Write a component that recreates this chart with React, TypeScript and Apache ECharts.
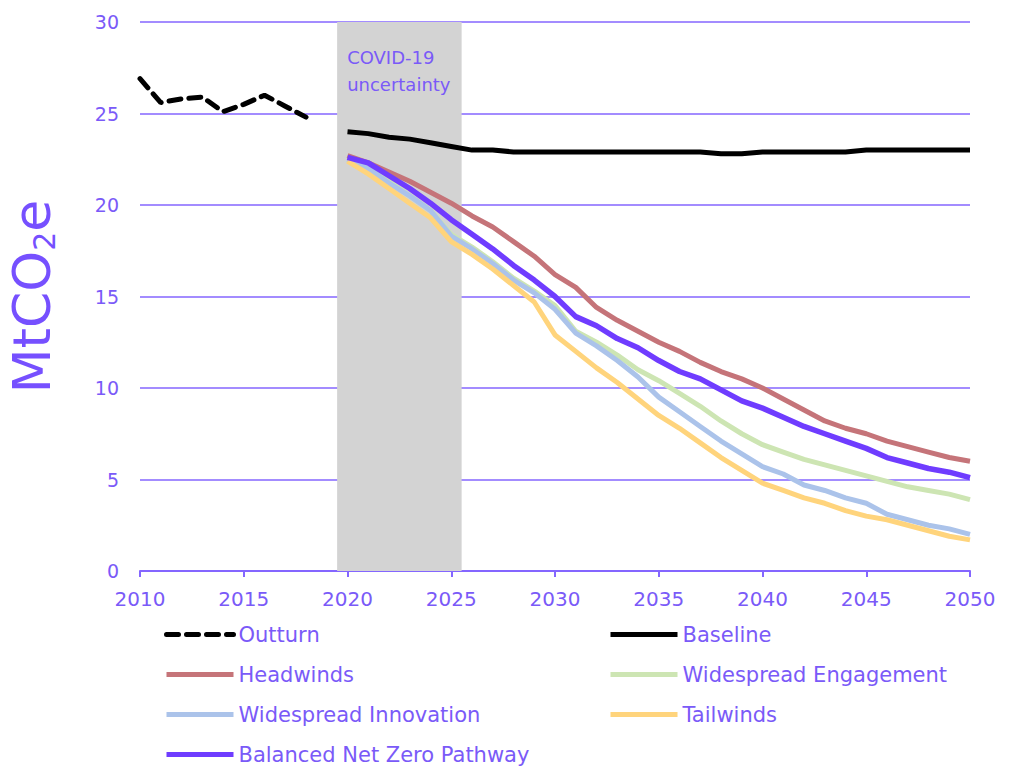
import React, { useEffect, useRef } from "react";
import * as echarts from "echarts";

const outturnYears = [2010, 2011, 2012, 2013, 2014, 2015, 2016, 2017, 2018];
const outturn = [26.9, 25.6, 25.8, 25.9, 25.1, 25.5, 26.0, 25.4, 24.8];

const scenarioYears = [
  2020, 2021, 2022, 2023, 2024, 2025, 2026, 2027, 2028, 2029, 2030,
  2031, 2032, 2033, 2034, 2035, 2036, 2037, 2038, 2039, 2040,
  2041, 2042, 2043, 2044, 2045, 2046, 2047, 2048, 2049, 2050,
];
const baseline = [
  24.0, 23.9, 23.7, 23.6, 23.4, 23.2, 23.0, 23.0, 22.9, 22.9, 22.9,
  22.9, 22.9, 22.9, 22.9, 22.9, 22.9, 22.9, 22.8, 22.8, 22.9,
  22.9, 22.9, 22.9, 22.9, 23.0, 23.0, 23.0, 23.0, 23.0, 23.0,
];
const headwinds = [
  22.7, 22.3, 21.8, 21.3, 20.7, 20.1, 19.4, 18.8, 18.0, 17.2, 16.2,
  15.5, 14.4, 13.7, 13.1, 12.5, 12.0, 11.4, 10.9, 10.5, 10.0,
  9.4, 8.8, 8.2, 7.8, 7.5, 7.1, 6.8, 6.5, 6.2, 6.0,
];
const engagement = [
  22.5, 22.0, 21.3, 20.5, 19.7, 18.4, 17.7, 16.9, 16.0, 15.3, 14.5,
  13.1, 12.5, 11.8, 11.0, 10.4, 9.7, 9.0, 8.2, 7.5, 6.9,
  6.5, 6.1, 5.8, 5.5, 5.2, 4.9, 4.6, 4.4, 4.2, 3.9,
];
const innovation = [
  22.5, 22.0, 21.2, 20.5, 19.7, 18.3, 17.6, 16.8, 15.9, 15.2, 14.3,
  13.0, 12.3, 11.5, 10.6, 9.5, 8.7, 7.9, 7.1, 6.4, 5.7,
  5.3, 4.7, 4.4, 4.0, 3.7, 3.1, 2.8, 2.5, 2.3, 2.0,
];
const tailwinds = [
  22.4, 21.7, 20.9, 20.1, 19.3, 18.0, 17.3, 16.5, 15.6, 14.7, 12.9,
  12.0, 11.1, 10.3, 9.4, 8.5, 7.8, 7.0, 6.2, 5.5, 4.8,
  4.4, 4.0, 3.7, 3.3, 3.0, 2.8, 2.5, 2.2, 1.9, 1.7,
];
const balanced = [
  22.6, 22.3, 21.6, 20.9, 20.1, 19.2, 18.4, 17.6, 16.7, 15.9, 15.0,
  13.9, 13.4, 12.7, 12.2, 11.5, 10.9, 10.5, 9.9, 9.3, 8.9,
  8.4, 7.9, 7.5, 7.1, 6.7, 6.2, 5.9, 5.6, 5.4, 5.1,
];
const covidBand = [2019.5, 2025.5];
const covidLabel = "COVID-19\nuncertainty";

const FONT = "DejaVu Sans";
const TXT = "#7a5af8";
const GRID = "#8466ff";

const pairs = (xs: number[], ys: number[]) => xs.map((x, i) => [x, ys[i]]);

export default function App() {
  const ref = useRef<HTMLDivElement>(null);
  useEffect(() => {
    if (!ref.current) return;
    const chart = echarts.init(ref.current, undefined, { renderer: "svg" });
    const line = (name: string, xs: number[], ys: number[], color: string, width: number, extra: any = {}) => ({
      name,
      type: "line",
      data: pairs(xs, ys),
      symbol: "none",
      showSymbol: false,
      lineStyle: { color, width, ...(extra.lineStyle || {}) },
      itemStyle: { color },
      z: extra.z ?? 3,
    });
    const legendCommon = {
      top: 624,
      padding: 0,
      orient: "vertical",
      itemWidth: 67,
      itemHeight: 14,
      itemGap: 19,
      itemStyle: { opacity: 0 },
      lineStyle: { width: 5 },
      textStyle: { color: TXT, fontSize: 21, lineHeight: 21, fontFamily: FONT },
    };
    chart.setOption({
      animation: false,
      textStyle: { fontFamily: FONT },
      grid: { left: 140, right: 42, top: 22, bottom: 195, outerBoundsMode: "none", containLabel: false },
      legend: [
        {
          ...legendCommon,
          left: 164,
          data: ["Outturn", "Headwinds", "Widespread Innovation", "Balanced Net Zero Pathway"],
        },
        {
          ...legendCommon,
          left: 608,
          data: ["Baseline", "Widespread Engagement", "Tailwinds"],
        },
      ],
      xAxis: {
        type: "value",
        min: 2010,
        max: 2050,
        interval: 5,
        axisLine: { lineStyle: { color: GRID, width: 2 } },
        axisTick: { show: true, length: 6, lineStyle: { color: GRID, width: 2 } },
        axisLabel: { color: TXT, fontSize: 20, margin: 18, formatter: (v: number) => String(v) },
        splitLine: { show: false },
      },
      yAxis: {
        type: "value",
        min: 0,
        max: 30,
        interval: 5,
        name: "{a|MtCO}{b|2}{a|e}",
        nameLocation: "middle",
        nameGap: 81,
        nameTextStyle: {
          rich: {
            a: { fontSize: 52, color: "#7650ff", fontFamily: FONT },
            b: { fontSize: 30, color: "#7650ff", fontFamily: FONT, verticalAlign: "bottom", padding: [24, 0, 0, 0] },
          },
        },
        axisLine: { show: false },
        axisTick: { show: false },
        axisLabel: { color: TXT, fontSize: 19, margin: 21 },
        splitLine: { lineStyle: { color: GRID, width: 1.5 } },
      },
      series: [
        line("Outturn", outturnYears, outturn, "#000000", 5, {
          lineStyle: { type: [12, 8], cap: "round" },
        }),
        line("Baseline", scenarioYears, baseline, "#000000", 5),
        {
          ...line("Headwinds", scenarioYears, headwinds, "#c57479", 5),
          markArea: {
            silent: true,
            z: 1,
            itemStyle: { color: "#d3d3d3" },
            label: {
              show: true,
              position: "insideTopLeft",
              distance: 10,
              padding: [12, 0, 0, 0],
              color: TXT,
              fontSize: 18,
              lineHeight: 27,
              fontFamily: FONT,
              formatter: covidLabel,
            },
            data: [[{ xAxis: covidBand[0] }, { xAxis: covidBand[1] }]],
          },
        },
        line("Widespread Engagement", scenarioYears, engagement, "#cde5b3", 5),
        line("Widespread Innovation", scenarioYears, innovation, "#abc3ea", 5),
        line("Tailwinds", scenarioYears, tailwinds, "#ffd47c", 5),
        line("Balanced Net Zero Pathway", scenarioYears, balanced, "#6f3cff", 5.5, { z: 4 }),
      ],
    });
    return () => chart.dispose();
  }, []);
  return <div ref={ref} style={{ width: 1012, height: 766, position: "absolute", left: 0, top: 0 }} />;
}
